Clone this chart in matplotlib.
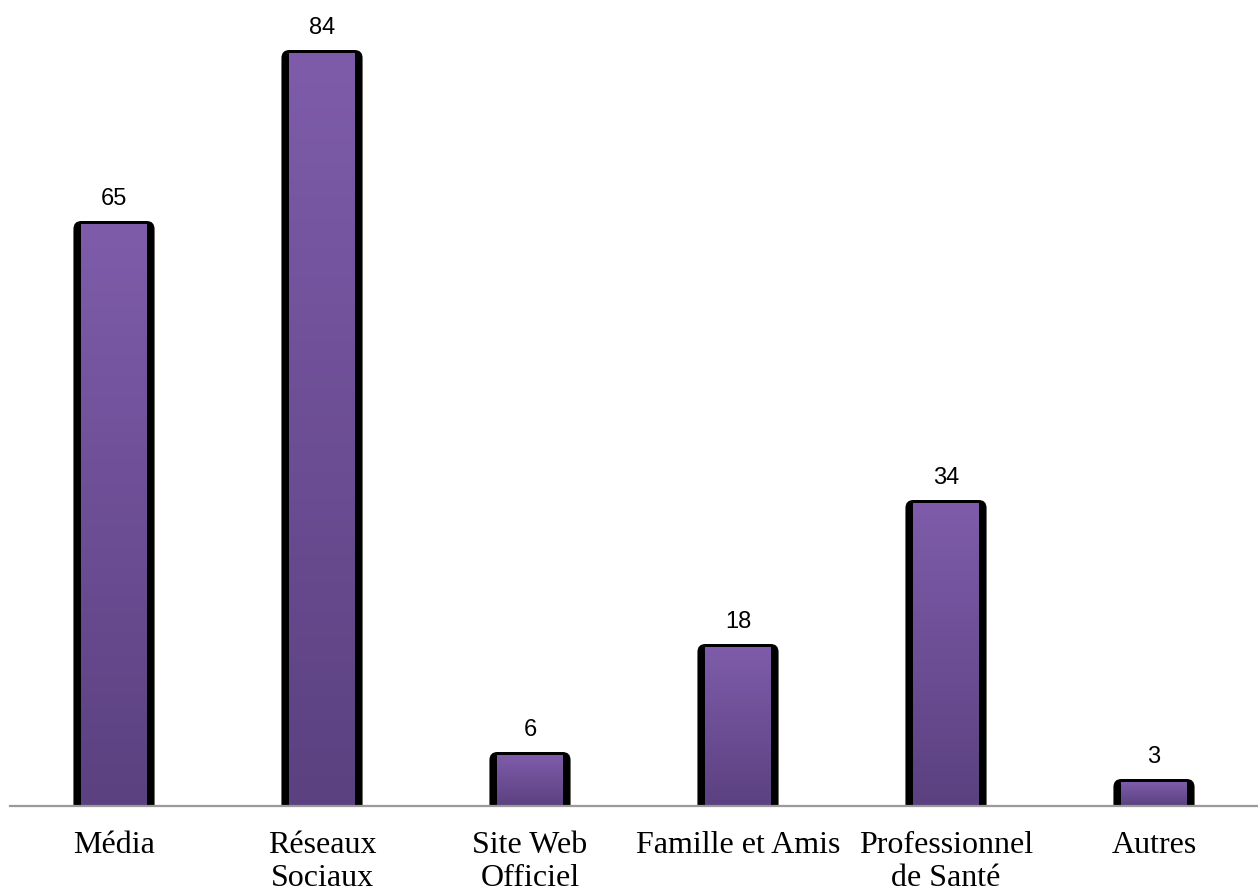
import numpy as np
import matplotlib
matplotlib.use("Agg")
import matplotlib.pyplot as plt
from matplotlib.patches import FancyBboxPatch
from matplotlib.colors import LinearSegmentedColormap

categories = ["Média", "Réseaux\nSociaux", "Site Web\nOfficiel",
              "Famille et Amis", "Professionnel\nde Santé", "Autres"]
values = [65, 84, 6, 18, 34, 3]

W, H = 1258, 892
fig = plt.figure(figsize=(W / 100, H / 100), dpi=100)
ax = fig.add_axes([10 / W, (H - 806) / H, 1 - 10 / W, 806 / H])

n = len(categories)
ymax = 806 / 9
ax.set_xlim(-0.5, n - 0.5)
ax.set_ylim(0, ymax)

# size of one pixel in data units
px_x = n / (W - 10)
px_y = ymax / 806
bw = 0.39
purple = LinearSegmentedColormap.from_list("pur", ["#5b4180", "#7e5caa"])
grad = np.linspace(0, 1, 256).reshape(-1, 1)

bars = ax.bar(range(n), values, width=bw, color="none", edgecolor="none")
for rect, v in zip(bars, values):
    x0, w, h = rect.get_x(), rect.get_width(), rect.get_height()
    r = 8 * px_x
    body = FancyBboxPatch((x0, -2), w, h + 2,
                          boxstyle=f"round,pad=0,rounding_size={r}",
                          mutation_aspect=px_y / px_x,
                          facecolor="black", edgecolor="none", zorder=2)
    ax.add_patch(body)
    ix0 = x0 + 8 * px_x
    ix1 = x0 + w - 8 * px_x
    ax.imshow(grad, cmap=purple, origin="lower", aspect="auto",
              extent=(ix0, ix1, 0, h - 3.5 * px_y), zorder=3,
              interpolation="bilinear")
    ax.text(x0 + w / 2, h + 16 * px_y, str(v), ha="center",
            va="baseline", fontsize=17, family="Liberation Sans",
            color="black")

ax.set_xlim(-0.5, n - 0.5)
ax.set_ylim(0, ymax)

for s in ["top", "right", "left"]:
    ax.spines[s].set_visible(False)
ax.spines["bottom"].set_color("#9a9a9a")
ax.spines["bottom"].set_linewidth(1.6)
ax.spines["bottom"].set_zorder(4)
ax.set_yticks([])
ax.set_xticks(range(n))
ax.set_xticklabels(categories, family="Liberation Serif", fontsize=23,
                   linespacing=1.19)
ax.tick_params(axis="x", length=0, pad=18)

fig.savefig("out.png", dpi=100)
